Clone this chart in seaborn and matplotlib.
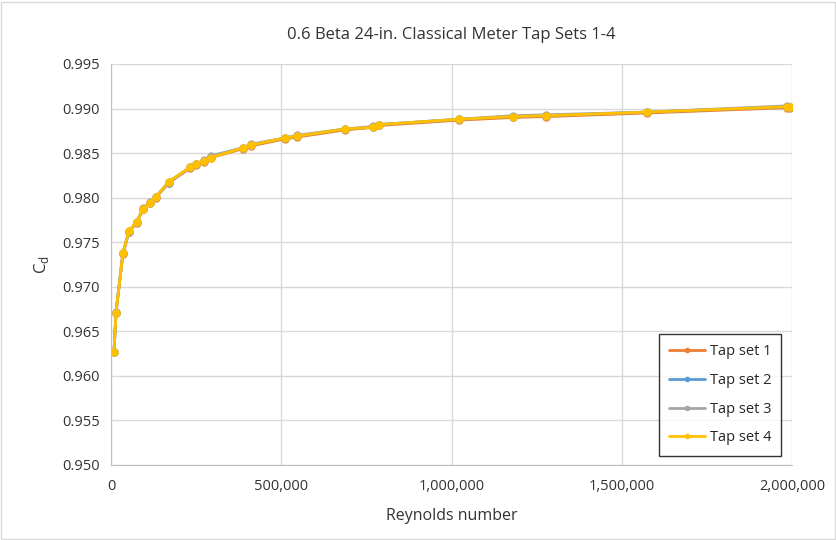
import matplotlib
matplotlib.use("Agg")
import matplotlib.pyplot as plt
import matplotlib.ticker as mticker
import seaborn as sns
import pandas as pd

re_vals = [8800, 14700, 35000, 53000, 76000, 94000, 115000, 132000, 170000,
           232000, 250000, 273000, 294000, 388000, 411000, 511000, 546000,
           687000, 770000, 787000, 1022000, 1181000, 1278000, 1574000, 1985000, 1994000]

cd_tap1 = [0.9627, 0.9671, 0.9737, 0.9762, 0.9772, 0.9787, 0.9794, 0.9800, 0.9817,
           0.9833, 0.9837, 0.9840, 0.9845, 0.9855, 0.9858, 0.9866, 0.9868,
           0.9876, 0.9879, 0.9881, 0.9887, 0.9890, 0.9891, 0.9895, 0.9901, 0.9901]
cd_tap2 = [0.9627, 0.9671, 0.9738, 0.9762, 0.9773, 0.9787, 0.9794, 0.9801, 0.9817,
           0.9834, 0.9838, 0.9841, 0.9846, 0.9856, 0.9859, 0.9867, 0.9869,
           0.9877, 0.9879, 0.9882, 0.9888, 0.9891, 0.9892, 0.9896, 0.9902, 0.9902]
cd_tap3 = [0.9627, 0.9672, 0.9738, 0.9763, 0.9773, 0.9788, 0.9795, 0.9801, 0.9818,
           0.9834, 0.9838, 0.9842, 0.9847, 0.9856, 0.9860, 0.9867, 0.9870,
           0.9877, 0.9880, 0.9882, 0.9888, 0.9892, 0.9893, 0.9896, 0.9903, 0.9902]
cd_tap4 = [0.9627, 0.9671, 0.9738, 0.9763, 0.9773, 0.9787, 0.9794, 0.9801, 0.9818,
           0.9834, 0.9838, 0.9841, 0.9845, 0.9856, 0.9859, 0.9867, 0.9869,
           0.9877, 0.9879, 0.9882, 0.9888, 0.9891, 0.9892, 0.9896, 0.9902, 0.9902]

series_names = ["Tap set 1", "Tap set 2", "Tap set 3", "Tap set 4"]
series_vals = [cd_tap1, cd_tap2, cd_tap3, cd_tap4]
colors = ["#ED7D31", "#5B9BD5", "#A5A5A5", "#FFC000"]

rows = []
for name, vals in zip(series_names, series_vals):
    for r, c in zip(re_vals, vals):
        rows.append({"Re": r, "Cd": c, "series": name})
df = pd.DataFrame(rows)

sns.set_style("white")
plt.rcParams['font.family'] = ['Open Sans', 'DejaVu Sans']

fig = plt.figure(figsize=(8.36, 5.40), dpi=100)
ax = fig.add_axes([111/836, 1-465/540, (792-111)/836, (465-64)/540])

sns.lineplot(data=df, x="Re", y="Cd", hue="series", palette=colors,
             hue_order=series_names, marker="o", markersize=6,
             markeredgewidth=0, linewidth=2, sort=False, ax=ax)

ax.set_xlim(0, 2000000)
ax.set_ylim(0.950, 0.995)
ax.xaxis.set_major_locator(mticker.MultipleLocator(500000))
ax.yaxis.set_major_locator(mticker.MultipleLocator(0.005))
ax.xaxis.set_major_formatter(mticker.FuncFormatter(lambda v, p: f"{int(v):,}"))
ax.yaxis.set_major_formatter(mticker.FormatStrFormatter("%.3f"))
ax.grid(True, color="#D9D9D9", linewidth=1)
ax.set_axisbelow(True)
for s in ["top", "right"]:
    ax.spines[s].set_visible(False)
for s in ["left", "bottom"]:
    ax.spines[s].set_color("#BFBFBF")
ax.tick_params(axis="both", length=0, labelsize=10.5, colors="#333333", pad=8)
ax.tick_params(axis="x", pad=10)

ax.set_xlabel("Reynolds number", fontsize=11.5, color="#333333", labelpad=10)
ax.set_ylabel(r"C$_\mathregular{d}$", fontsize=12, color="#333333", labelpad=8)
ax.set_title("0.6 Beta 24-in. Classical Meter Tap Sets 1-4", fontsize=12,
             color="#333333", pad=18)

leg = ax.legend(loc="lower right", frameon=True, fontsize=10.5, fancybox=False,
                handlelength=2.5, borderpad=0.7, labelspacing=0.95,
                bbox_to_anchor=(0.995, 0.005), handletextpad=0.3)
leg.get_frame().set_edgecolor("black")
leg.get_frame().set_linewidth(1)
leg.set_title(None)
for h in leg.get_lines():
    h.set_markersize(4)

fig.patches.append(plt.Rectangle((1/836, 1/540), 834/836, 537/540, transform=fig.transFigure,
                                 fill=False, edgecolor="#D9D9D9", linewidth=1))

fig.savefig("out.png", dpi=100)
